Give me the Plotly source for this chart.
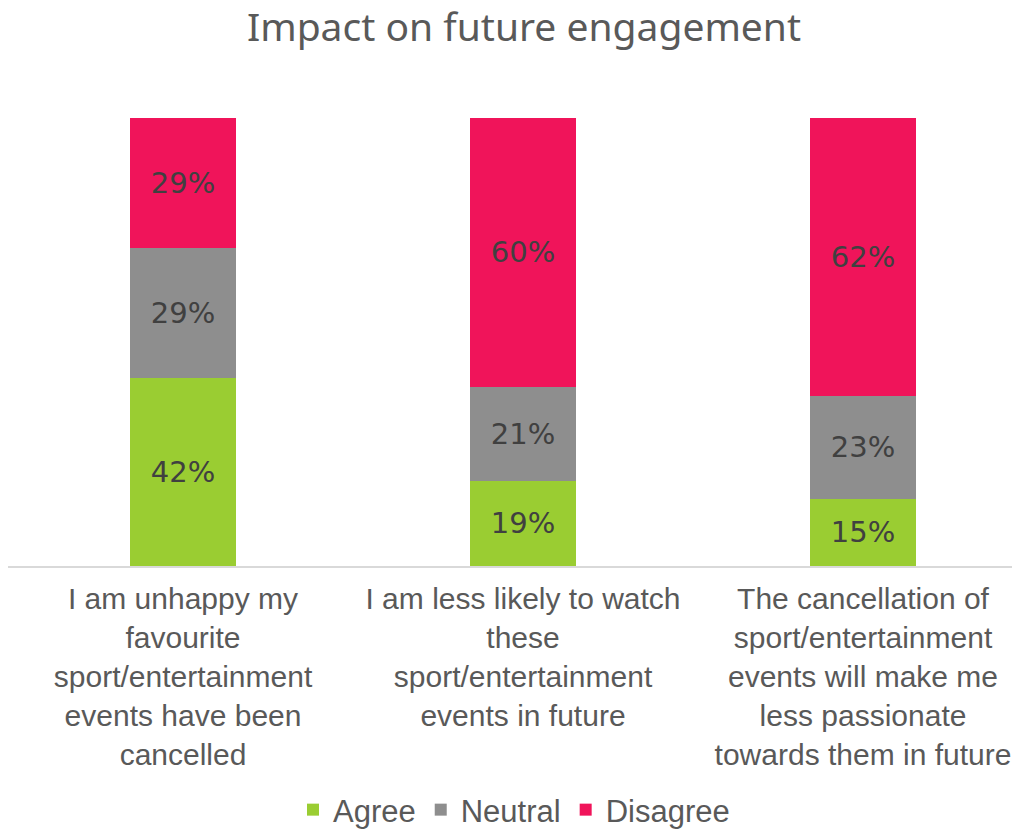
import plotly.graph_objects as go

categories = [
    "I am unhappy my<br>favourite<br>sport/entertainment<br>events have been<br>cancelled",
    "I am less likely to watch<br>these<br>sport/entertainment<br>events in future",
    "The cancellation of<br>sport/entertainment<br>events will make me<br>less passionate<br>towards them in future",
]
agree = [42, 19, 15]
neutral = [29, 21, 23]
disagree = [29, 60, 62]

series = [("Agree", agree, "#9ACD32"), ("Neutral", neutral, "#8E8E8E"), ("Disagree", disagree, "#F0145A")]

fig = go.Figure()
for name, vals, color in series:
    fig.add_trace(go.Bar(
        x=[0, 1, 2], y=vals, name=name, marker_color=color, marker_line_width=0,
        text=[f"{v}%" for v in vals], textposition="inside", insidetextanchor="middle",
        textfont=dict(family="DejaVu Sans, sans-serif", size=29, color="#404040"),
    ))

# page has an 8px body margin, so the figure is sized 8px smaller
fig.update_layout(
    barmode="stack",
    bargap=0.69,
    width=1012, height=821,
    margin=dict(l=0, r=0, t=110, b=263, autoexpand=False),
    plot_bgcolor="white", paper_bgcolor="white",
    title=dict(text="Impact on future engagement", x=516 / 1012, xanchor="center",
               yref="container", y=1, yanchor="top", pad=dict(t=6),
               font=dict(family="Noto Sans, sans-serif", size=39, color="#595959")),
    legend=dict(orientation="h", x=0.5, xanchor="center", yref="container", y=19 / 821, yanchor="middle",
                font=dict(family="Liberation Sans, Arial, sans-serif", size=31, color="#595959"),
                itemwidth=30, traceorder="normal"),
    uniformtext=dict(mode="show", minsize=10),
)
fig.update_xaxes(tickmode="array", tickvals=[0, 1, 2], ticktext=categories,
                 range=[-175 / 340, 2 + 157 / 340], showline=True, linecolor="#D9D9D9", linewidth=2,
                 tickfont=dict(family="Liberation Sans, Arial, sans-serif", size=30, color="#595959"),
                 ticks="", showgrid=False, ticklabelstandoff=5)
fig.update_yaxes(range=[0, 100], visible=False)

fig.write_html("out.html")
